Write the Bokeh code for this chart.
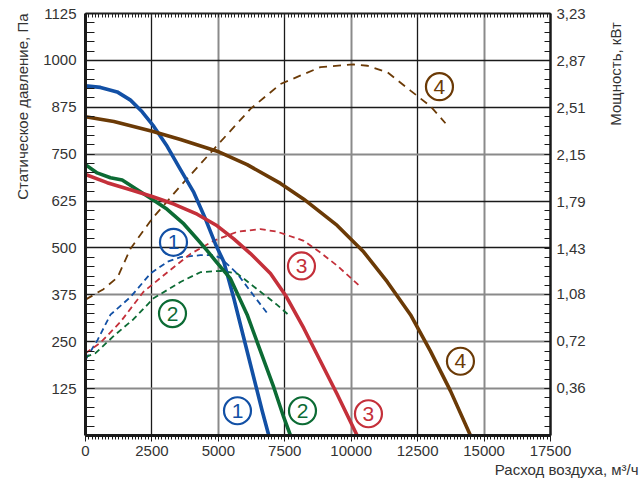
import math
from bokeh.plotting import figure
from bokeh.models import Range1d, LinearAxis, FixedTicker, Grid, Title
from bokeh.core.properties import value
from bokeh.embed import file_html
from bokeh.resources import INLINE

# ---- data: static pressure curves (Pa) vs air flow (m3/h) ----
flow_1 = [0, 564, 1192, 1693, 2133, 2571, 3073, 3575, 4076, 4516, 4892, 5205, 5581, 5957, 6334, 6648, 6899]
pres_1 = [932, 928, 916, 894, 863, 824, 771, 709, 648, 577, 510, 463, 366, 260, 154, 66, 0]

flow_2 = [0, 439, 941, 1380, 1818, 2509, 3073, 3700, 4202, 4578, 4954, 5456, 6084, 6585, 7087, 7463, 7714]
pres_2 = [722, 700, 687, 681, 661, 630, 603, 564, 524, 493, 460, 418, 322, 225, 128, 48, 0]

flow_3 = [0, 815, 1693, 2509, 3324, 4202, 4954, 5581, 6209, 6961, 7526, 8215, 8843, 9471, 10223]
pres_3 = [696, 674, 655, 637, 617, 590, 559, 524, 485, 432, 374, 286, 198, 110, 0]

flow_4 = [0, 1066, 2509, 3575, 4954, 6084, 7338, 8215, 9471, 10473, 11353, 12230, 12982, 13735, 14488]
pres_4 = [850, 837, 811, 789, 758, 722, 672, 630, 560, 489, 410, 322, 225, 119, 0]

# ---- data: power curves (kW) vs air flow (m3/h) ----
pflow_1 = [0, 451, 940, 1693, 2446, 3086, 3575, 4327, 4817, 5080, 5707, 6334, 6899]
power_1 = [0.58, 0.73, 0.925, 1.06, 1.24, 1.33, 1.365, 1.38, 1.38, 1.36, 1.24, 1.07, 0.92]

pflow_2 = [0, 376, 1054, 1806, 2559, 3575, 4327, 5080, 5707, 6585, 7212, 7714]
power_2 = [0.60, 0.63, 0.76, 0.89, 1.05, 1.175, 1.25, 1.26, 1.24, 1.10, 1.00, 0.91]

pflow_3 = [0, 564, 1317, 2183, 3086, 3951, 4817, 5720, 6585, 7212, 8215, 8843, 9471, 10285]
power_3 = [0.63, 0.71, 0.87, 1.10, 1.25, 1.39, 1.49, 1.56, 1.58, 1.56, 1.49, 1.40, 1.30, 1.15]

pflow_4 = [0, 677, 1204, 1693, 2509, 3575, 4954, 6209, 7338, 8843, 10085, 10612, 11364, 12230, 12982, 13547]
power_4 = [1.04, 1.12, 1.21, 1.43, 1.66, 1.91, 2.22, 2.50, 2.69, 2.82, 2.84, 2.83, 2.78, 2.64, 2.52, 2.39]

# ---- ticks ----
x_ticks = [0, 2500, 5000, 7500, 10000, 12500, 15000, 17500]
y_ticks = [125, 250, 375, 500, 625, 750, 875, 1000, 1125]
p_ticks = [0.36, 0.72, 1.08, 1.43, 1.79, 2.15, 2.51, 2.87, 3.23]
p_tick_labels = ["0,36", "0,72", "1,08", "1,43", "1,79", "2,15", "2,51", "2,87", "3,23"]

# ---- circled number labels (flow, pressure) ----
tag_text = ["1", "2", "3", "4", "1", "2", "3", "4"]
tag_x = [3311, 3274, 8128, 13321, 5720, 8166, 10649, 14111]
tag_y = [515, 325, 452, 930, 66, 66, 58, 198]

BLUE = "#1250a5"
GREEN = "#0c6b34"
RED = "#c4303a"
BROWN = "#6b3a06"
colors = [BLUE, GREEN, RED, BROWN]
tag_colors = [BLUE, GREEN, RED, BROWN, BLUE, GREEN, RED, BROWN]

X_MAX = 17500
Y_MAX = 1125
P_MAX = 3.23

p = figure(width=640, height=483, output_backend="svg", toolbar_location=None,
           x_range=Range1d(0, X_MAX), y_range=Range1d(0, Y_MAX),
           min_border_left=85, min_border_right=90, min_border_top=13, min_border_bottom=48)
p.extra_y_ranges = {"power": Range1d(0, P_MAX)}
p.outline_line_color = None
p.xgrid.visible = False
p.ygrid.visible = False
p.background_fill_color = "white"
p.border_fill_color = "white"

FONT = "Liberation Sans"
TXT = "#333333"
DARK = "#1a1a1a"

# grid lines
p.add_layout(Grid(dimension=0, ticker=FixedTicker(ticks=[2500, 7500, 12500]),
                  grid_line_color=DARK, grid_line_width=1.3))
p.add_layout(Grid(dimension=0, ticker=FixedTicker(ticks=[5000, 10000, 15000]),
                  grid_line_color="#8a8a8a", grid_line_width=2))
p.add_layout(Grid(dimension=1, ticker=FixedTicker(ticks=[500, 625, 875, 1000]),
                  grid_line_color=DARK, grid_line_width=1.3))
p.add_layout(Grid(dimension=1, ticker=FixedTicker(ticks=[125, 250, 375, 750]),
                  grid_line_color="#8a8a8a", grid_line_width=2))

# bottom axis
xa = p.xaxis[0]
xa.ticker = FixedTicker(ticks=x_ticks, minor_ticks=[125 * k for k in range(141)])
xa.axis_line_width = 3
xa.axis_line_color = DARK
xa.major_tick_out = 6
xa.major_tick_in = 0
xa.minor_tick_out = 4
xa.minor_tick_in = 0
xa.major_tick_line_color = DARK
xa.minor_tick_line_color = DARK
xa.major_label_text_font = FONT
xa.major_label_text_font_size = "15px"
xa.major_label_text_color = TXT
xa.major_label_standoff = 4

# left axis
ya = p.yaxis[0]
ya.ticker = FixedTicker(ticks=y_ticks, minor_ticks=[25 * k for k in range(46)])
ya.axis_line_width = 3
ya.axis_line_color = DARK
ya.major_tick_out = 0
ya.major_tick_in = 9
ya.minor_tick_out = 0
ya.minor_tick_in = 9
ya.major_tick_line_color = DARK
ya.minor_tick_line_color = DARK
ya.major_label_text_font = FONT
ya.major_label_text_font_size = "15px"
ya.major_label_text_color = TXT
ya.major_label_standoff = 9

# right axis (power)
pa = LinearAxis(y_range_name="power",
                ticker=FixedTicker(ticks=p_ticks, minor_ticks=[P_MAX / 45 * k for k in range(46)]),
                major_label_overrides={t: s for t, s in zip(p_ticks, p_tick_labels)})
pa.axis_line_width = 2.5
pa.axis_line_color = DARK
pa.major_tick_out = 0
pa.major_tick_in = 6
pa.minor_tick_out = 0
pa.minor_tick_in = 6
pa.major_tick_line_color = DARK
pa.minor_tick_line_color = DARK
pa.major_label_text_font = FONT
pa.major_label_text_font_size = "15px"
pa.major_label_text_color = TXT
pa.major_label_standoff = 6
p.add_layout(pa, "right")

# right-hand title, drawn as the single label of an extra (line-less) right axis,
# so that it reads upward and sits at the top like the reference
RIGHT_TITLE = "Мощность, кВт"
RIGHT_TITLE_AT = 826
rt = LinearAxis(ticker=FixedTicker(ticks=[RIGHT_TITLE_AT], minor_ticks=[]),
                major_label_overrides={RIGHT_TITLE_AT: RIGHT_TITLE})
rt.axis_line_color = None
rt.major_tick_line_color = None
rt.minor_tick_line_color = None
rt.major_tick_in = 0
rt.major_tick_out = 0
rt.major_label_orientation = math.pi / 2
rt.major_label_standoff = 27
rt.major_label_text_font = FONT
rt.major_label_text_font_size = "15px"
rt.major_label_text_color = TXT
p.add_layout(rt, "right")

# top axis (ruler, ticks only)
ta = LinearAxis(ticker=FixedTicker(ticks=[], minor_ticks=[125 * k for k in range(141)]))
ta.axis_line_width = 2
ta.axis_line_color = "#222222"
ta.major_tick_out = 0
ta.major_tick_in = 0
ta.minor_tick_out = 0
ta.minor_tick_in = 4
ta.minor_tick_line_color = "#222222"
ta.major_label_standoff = 0
p.add_layout(ta, "above")

ttl_kw = dict(text_font=FONT, text_font_size="15px", text_color=TXT, text_font_style="normal")
p.add_layout(Title(text="Статическое давление, Па", align="right", standoff=20, **ttl_kw), "left")
p.add_layout(Title(text="Расход воздуха, м³/ч", align="right", offset=-88, standoff=0, **ttl_kw), "below")

# power curves (dashed)
for fx, py, c, d in zip([pflow_1, pflow_2, pflow_3, pflow_4],
                        [power_1, power_2, power_3, power_4], colors,
                        ["6 4", "6 4", "6 4", "8 6"]):
    p.line(fx, py, y_range_name="power", line_color=c, line_width=1.8, line_dash=d)

# pressure curves (solid)
for fx, py, c in zip([flow_1, flow_2, flow_3, flow_4],
                     [pres_1, pres_2, pres_3, pres_4], colors):
    p.line(fx, py, line_color=c, line_width=3.6, line_join="round")

# circled numbers
p.scatter(tag_x, tag_y, marker="circle", size=27, fill_color=None,
          line_color=tag_colors, line_width=2.2)
p.text(tag_x, tag_y, text=tag_text, text_color=tag_colors, text_font=value(FONT),
       text_font_size="21px", text_align="center", text_baseline="middle")

open("out.html", "w").write(file_html(p, INLINE))
